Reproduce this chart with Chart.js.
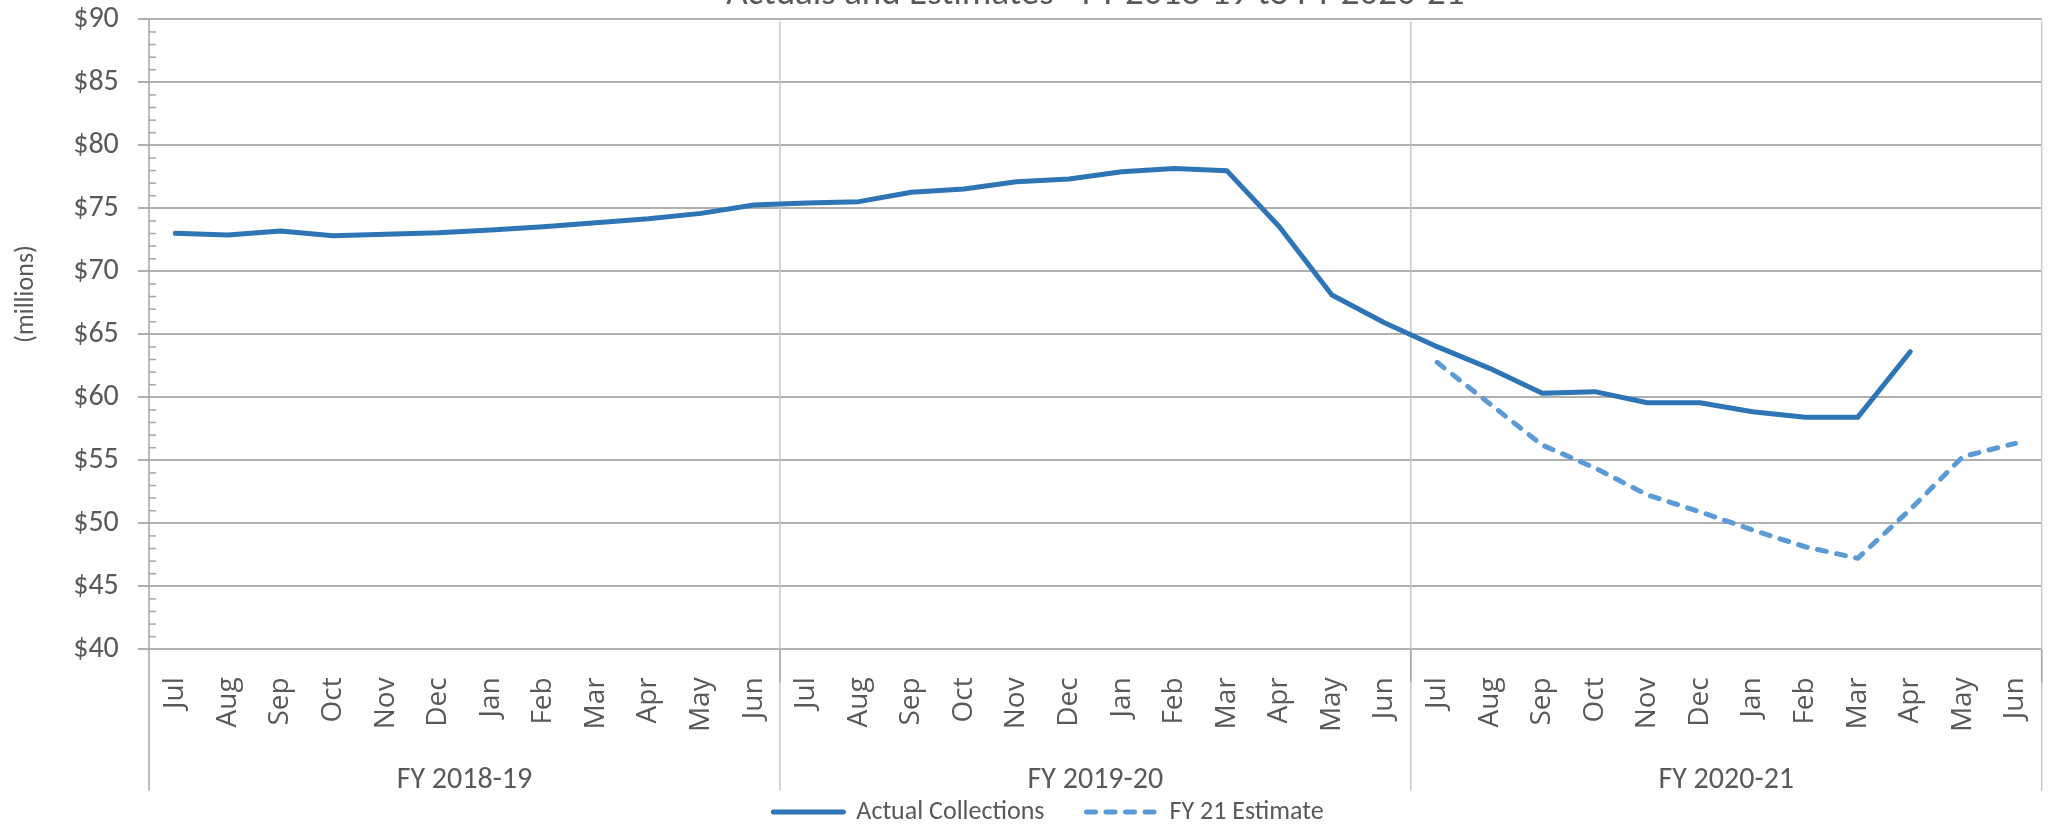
<!DOCTYPE html>
<html>
<head>
<meta charset="utf-8">
<script src="https://cdn.jsdelivr.net/npm/chart.js@4.4.1/dist/chart.umd.min.js"></script>
<style>
  html, body { margin: 0; padding: 0; background: #ffffff; overflow: hidden; }
  #wrap { width: 2069px; height: 832px; position: relative; }
</style>
</head>
<body>
<div id="wrap"><canvas id="c" width="2069" height="832"></canvas></div>
<script>
// ---- data ----
const chartTitle = 'Actuals and Estimates - FY 2018-19 to FY 2020-21';
const yAxisTitle = '(millions)';
const months = ['Jul','Aug','Sep','Oct','Nov','Dec','Jan','Feb','Mar','Apr','May','Jun',
                'Jul','Aug','Sep','Oct','Nov','Dec','Jan','Feb','Mar','Apr','May','Jun',
                'Jul','Aug','Sep','Oct','Nov','Dec','Jan','Feb','Mar','Apr','May','Jun'];
const fiscalYears = ['FY 2018-19', 'FY 2019-20', 'FY 2020-21'];
const actualCollections = [73.02, 72.88, 73.20, 72.83, 72.94, 73.06, 73.28, 73.54, 73.86, 74.17, 74.60, 75.26,
                           75.42, 75.53, 76.27, 76.53, 77.11, 77.33, 77.91, 78.17, 77.99, 73.54, 68.12, 65.92,
                           64.02, 62.30, 60.32, 60.45, 59.57, 59.57, 58.86, 58.41, 58.41, 63.62, null, null];
const fy21Estimate = [null, null, null, null, null, null, null, null, null, null, null, null,
                      null, null, null, null, null, null, null, null, null, null, null, null,
                      62.78, 59.49, 56.21, 54.40, 52.25, 50.92, 49.47, 48.14, 47.22, 51.10, 55.29, 56.35];
const yTickLabels = ['$40','$45','$50','$55','$60','$65','$70','$75','$80','$85','$90'];
const yMin = 40, yMax = 90, yStep = 5;

const TEXT = '#595959';
const CAL = 'Carlito, Lato, sans-serif';

// vertical fiscal-year separators (and axis line) extended through the category area
const yearLines = {
  id: 'yearLines',
  beforeDatasetsDraw(chart) {
    const { ctx, chartArea, scales } = chart;
    const x = scales.x, x2 = scales.x2;
    const perYear = months.length / fiscalYears.length;
    const half = (x.getPixelForValue(1) - x.getPixelForValue(0)) / 2;
    ctx.save();
    for (let k = 0; k <= fiscalYears.length; k++) {
      const px = k === 0 ? x.getPixelForValue(0) - half : x.getPixelForValue(perYear * k - 1) + half;
      ctx.beginPath();
      ctx.lineWidth = 1.5;
      ctx.strokeStyle = k === 0 ? '#a6a6a6' : '#c8c8c8';
      ctx.moveTo(px, chartArea.top + (k === 0 ? 0 : 2));
      ctx.lineTo(px, x2.bottom);
      ctx.stroke();
      if (k > 0) {
        ctx.beginPath();
        ctx.strokeStyle = '#a6a6a6';
        ctx.moveTo(px, chartArea.bottom);
        ctx.lineTo(px, chartArea.bottom + 33);
        ctx.stroke();
      }
    }
    // minor tick marks on the value axis (inside)
    const y = scales.y;
    ctx.strokeStyle = '#a6a6a6';
    ctx.lineWidth = 1.5;
    for (let v = yMin + 1; v < yMax; v++) {
      if (v % yStep === 0) continue;
      const py = y.getPixelForValue(v);
      ctx.beginPath();
      ctx.moveTo(chartArea.left, py);
      ctx.lineTo(chartArea.left + 7, py);
      ctx.stroke();
    }
    ctx.restore();
  }
};

// titles: chart title (mostly cut off at the top edge) and the value-axis title
const titlesPlugin = {
  id: 'titlesPlugin',
  afterDraw(chart) {
    const { ctx, chartArea } = chart;
    ctx.save();
    ctx.fillStyle = TEXT;
    ctx.font = '37px ' + CAL;
    ctx.textAlign = 'center';
    ctx.textBaseline = 'alphabetic';
    ctx.fillText(chartTitle, (chartArea.left + chartArea.right) / 2, chartArea.top - 15.5);
    ctx.translate(26, chartArea.top + (chartArea.bottom - chartArea.top) * 0.436);
    ctx.rotate(-Math.PI / 2);
    ctx.font = '26px ' + CAL;
    ctx.textBaseline = 'middle';
    ctx.fillText(yAxisTitle, 0, 0);
    ctx.restore();
  }
};

function draw() {
  new Chart(document.getElementById('c'), {
    type: 'line',
    data: {
      labels: months,
      datasets: [
        {
          label: 'Actual Collections',
          data: actualCollections,
          borderColor: '#2E75B6',
          backgroundColor: '#2E75B6',
          borderWidth: 5,
          pointRadius: 0,
          pointStyle: 'line',
          tension: 0,
          borderJoinStyle: 'round',
          borderCapStyle: 'round',
          fill: false
        },
        {
          label: 'FY 21 Estimate',
          data: fy21Estimate,
          borderColor: '#5B9BD5',
          backgroundColor: '#5B9BD5',
          borderWidth: 5,
          borderDash: [9, 10.5],
          pointRadius: 0,
          pointStyle: 'line',
          tension: 0,
          borderJoinStyle: 'round',
          borderCapStyle: 'round',
          fill: false
        }
      ]
    },
    options: {
      responsive: false,
      animation: false,
      devicePixelRatio: 1,
      layout: { padding: { top: 0, right: 0, bottom: -3, left: 28 } },
      plugins: {
        title: { display: false },
        legend: {
          display: true,
          position: 'bottom',
          labels: {
            usePointStyle: true,
            pointStyle: 'line',
            pointStyleWidth: 70,
            color: TEXT,
            font: { family: CAL, size: 26 },
            padding: 42,
            generateLabels: (chart) => {
              const items = Chart.defaults.plugins.legend.labels.generateLabels(chart);
              items.forEach((it) => {
                const ds = chart.data.datasets[it.datasetIndex];
                it.lineDash = ds.borderDash || [];
                it.lineCap = 'round';
                it.lineWidth = ds.borderWidth;
                it.strokeStyle = ds.borderColor;
              });
              return items;
            }
          },
          title: { display: true, text: '', font: { size: 1 }, padding: { top: -35, bottom: 0 } }
        },
        tooltip: { enabled: false }
      },
      scales: {
        x: {
          type: 'category',
          offset: true,
          grid: { display: false },
          border: { display: false },
          ticks: {
            autoSkip: false,
            minRotation: 90,
            maxRotation: 90,
            padding: 20,
            color: TEXT,
            font: { family: "'Open Sans', 'DejaVu Sans', sans-serif", size: 28 }
          },
          afterFit: (s) => { s.height = 96; }
        },
        x2: {
          type: 'category',
          labels: fiscalYears,
          position: 'bottom',
          weight: 1,
          offset: true,
          grid: { display: false },
          border: { display: false },
          ticks: {
            autoSkip: false,
            maxRotation: 0,
            minRotation: 0,
            padding: 9,
            color: TEXT,
            font: { family: CAL, size: 30 }
          },
          afterFit: (s) => { s.height = 45.5; }
        },
        y: {
          min: yMin,
          max: yMax,
          ticks: {
            stepSize: yStep,
            padding: 19.2,
            color: TEXT,
            font: { family: CAL, size: 30, lineHeight: 0.01 },
            callback: (v, i) => yTickLabels[i]
          },
          grid: { color: '#b0b0b0', lineWidth: 2, tickLength: 11, drawTicks: true },
          border: { display: false },
          afterFit: (s) => { s.width = 121; }
        }
      }
    },
    plugins: [yearLines, titlesPlugin]
  });
}

Promise.all([
  document.fonts.load('30px Carlito'),
  document.fonts.load('27px Lato'),
  document.fonts.load('27px "Open Sans"')
]).then(draw, draw);
</script>
</body>
</html>
